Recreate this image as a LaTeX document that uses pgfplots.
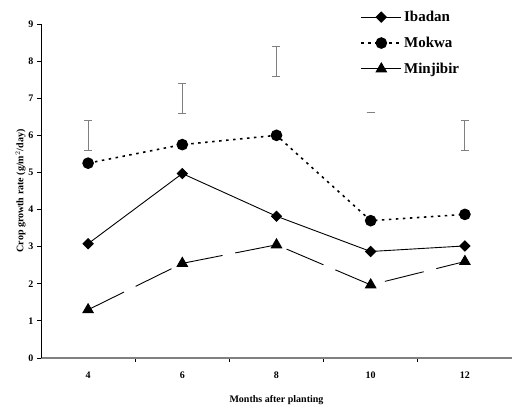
\documentclass[border=0pt]{standalone}
\usepackage{pgfplots}
\pgfplotsset{compat=1.18}
\usepackage{fontspec}
\setmainfont{Liberation Serif}
\begin{document}
\begin{tikzpicture}
\path[use as bounding box] (0,0) rectangle (512pt,410pt);
\begin{axis}[
  at={(41pt,52pt)}, anchor=south west,
  scale only axis, width=471pt, height=334pt,
  xmin=-0.5, xmax=4.5, ymin=0, ymax=9,
  axis x line=bottom, axis y line=left,
  axis line style={-},
  x axis line style={draw=gray, line width=1.6pt},
  y axis line style={draw=black, line width=0.9pt},
  xtick={0,1,2,3,4}, xticklabels={4,6,8,10,12},
  major x tick style={draw=none},
  minor xtick={0.5,1.5,2.5,3.5},
  minor x tick style={draw=black, line width=0.8pt},
  minor tick length=4pt,
  ytick={0,1,...,9},
  y tick style={draw=black, line width=0.8pt},
  major tick length=4pt,
  tick align=outside,
  xtick pos=bottom, ytick pos=left,
  /pgf/number format/assume math mode=true,
  ticklabel style={font=\fontsize{10}{12}\selectfont\bfseries},
  xticklabel style={yshift=-6pt},
  xlabel={Months after planting},
  ylabel={Crop growth rate (g/m$^{2}$/day)},
  label style={font=\fontsize{10}{12}\selectfont\bfseries},
  xlabel style={yshift=-10pt},
  ylabel style={yshift=-4pt},
  clip=false,
  legend style={draw=none, fill=none, at={(0.678,1.045)}, anchor=north west,
    font=\fontsize{15}{18}\selectfont\bfseries, row sep=10pt,
    inner sep=0pt},
  legend cell align=left,
  legend image code/.code={\draw[mark repeat=2,mark phase=2] plot coordinates {(0pt,0pt) (20pt,0pt) (40pt,0pt)};},
]
\addplot[black, line width=0.9pt, mark=square*, mark size=3.6pt, mark options={solid, rotate=45}]
  coordinates {(0,3.08) (1,4.97) (2,3.82) (3,2.87) (4,3.02)};
\addlegendentry{Ibadan}
\addplot[black, line width=1.6pt, dash pattern=on 2.5pt off 4.5pt, mark=*, mark size=5pt, mark options={solid}]
  coordinates {(0,5.25) (1,5.75) (2,6.0) (3,3.7) (4,3.87)};
\addlegendentry{Mokwa}
\addplot[black, line width=0.9pt, dash pattern=on 40pt off 13pt, mark=triangle*, mark size=6pt, mark options={solid}]
  coordinates {(0,1.3) (1,2.55) (2,3.05) (3,1.97) (4,2.6)};
\addlegendentry{Minjibir}
\addplot[draw=none, mark=none, forget plot,
  error bars/.cd, y dir=both, y explicit,
  error bar style={gray, line width=0.9pt},
  error mark options={gray, line width=0.9pt, mark size=4pt, rotate=90}]
  coordinates {(0,6.0) +- (0,0.4) (1,7.0) +- (0,0.4) (2,8.0) +- (0,0.4) (3,6.62) +- (0,0) (4,6.0) +- (0,0.4)};
\end{axis}
\end{tikzpicture}
\end{document}
